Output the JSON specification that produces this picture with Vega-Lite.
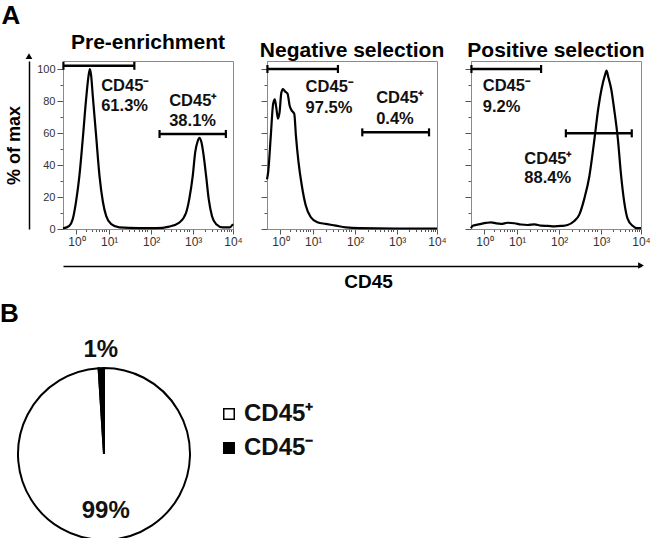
{
  "$schema": "https://vega.github.io/schema/vega-lite/v6.json",
  "padding": {"left": 0, "right": 0, "top": 2, "bottom": 0},
  "config": {
    "font": "Liberation Sans",
    "view": {"stroke": "#8a8a8a"},
    "axis": {"labelFont": "Liberation Sans", "titleFont": "Liberation Sans", "grid": false},
    "title": {"font": "Liberation Sans", "color": "black"}
  },
  "datasets": {
    "hist": [
      {"p":1,"d":-0.05,"y":0.4},{"p":1,"d":0.10,"y":2},{"p":1,"d":0.18,"y":6},{"p":1,"d":0.26,"y":17},{"p":1,"d":0.34,"y":33},{"p":1,"d":0.42,"y":56},{"p":1,"d":0.50,"y":81},{"p":1,"d":0.56,"y":96},{"p":1,"d":0.59,"y":100},{"p":1,"d":0.62,"y":96},{"p":1,"d":0.66,"y":83},{"p":1,"d":0.74,"y":58},{"p":1,"d":0.82,"y":33},{"p":1,"d":0.90,"y":17},{"p":1,"d":0.98,"y":8},{"p":1,"d":1.10,"y":3},{"p":1,"d":1.29,"y":1},{"p":1,"d":1.77,"y":0.5},{"p":1,"d":2.17,"y":0.5},{"p":1,"d":2.48,"y":1.5},{"p":1,"d":2.72,"y":4},{"p":1,"d":2.88,"y":10},{"p":1,"d":2.96,"y":19},{"p":1,"d":3.04,"y":33},{"p":1,"d":3.10,"y":48},{"p":1,"d":3.16,"y":55},{"p":1,"d":3.20,"y":57},{"p":1,"d":3.25,"y":54},{"p":1,"d":3.30,"y":46},{"p":1,"d":3.36,"y":33},{"p":1,"d":3.42,"y":19},{"p":1,"d":3.50,"y":8},{"p":1,"d":3.60,"y":3},{"p":1,"d":3.76,"y":1},{"p":1,"d":3.92,"y":1},{"p":1,"d":4.0,"y":3},
      {"p":2,"d":-0.05,"y":31},{"p":2,"d":-0.02,"y":36},{"p":2,"d":0.04,"y":58},{"p":2,"d":0.095,"y":78},{"p":2,"d":0.135,"y":81},{"p":2,"d":0.17,"y":76},{"p":2,"d":0.21,"y":69},{"p":2,"d":0.25,"y":73},{"p":2,"d":0.29,"y":85},{"p":2,"d":0.33,"y":87.5},{"p":2,"d":0.38,"y":86},{"p":2,"d":0.44,"y":84.5},{"p":2,"d":0.49,"y":77},{"p":2,"d":0.54,"y":74},{"p":2,"d":0.60,"y":72},{"p":2,"d":0.64,"y":58},{"p":2,"d":0.70,"y":42},{"p":2,"d":0.78,"y":27},{"p":2,"d":0.87,"y":15},{"p":2,"d":0.99,"y":7.5},{"p":2,"d":1.15,"y":4.2},{"p":2,"d":1.35,"y":3.2},{"p":2,"d":1.59,"y":2.1},{"p":2,"d":1.83,"y":1},{"p":2,"d":2.15,"y":0.5},{"p":2,"d":3.0,"y":0.3},{"p":2,"d":4.0,"y":0.3},
      {"p":3,"d":-0.05,"y":0.5},{"p":3,"d":-0.01,"y":2},{"p":3,"d":0.19,"y":3.2},{"p":3,"d":0.31,"y":3.8},{"p":3,"d":0.43,"y":4.2},{"p":3,"d":0.55,"y":3.5},{"p":3,"d":0.67,"y":3.2},{"p":3,"d":0.82,"y":3.9},{"p":3,"d":0.98,"y":3.6},{"p":3,"d":1.14,"y":2.8},{"p":3,"d":1.30,"y":2.5},{"p":3,"d":1.46,"y":2.9},{"p":3,"d":1.62,"y":2.1},{"p":3,"d":1.78,"y":1.9},{"p":3,"d":1.94,"y":1.6},{"p":3,"d":2.10,"y":1.9},{"p":3,"d":2.25,"y":2.5},{"p":3,"d":2.41,"y":5},{"p":3,"d":2.53,"y":9},{"p":3,"d":2.65,"y":19},{"p":3,"d":2.77,"y":33},{"p":3,"d":2.89,"y":56},{"p":3,"d":2.98,"y":75},{"p":3,"d":3.06,"y":87.5},{"p":3,"d":3.14,"y":96},{"p":3,"d":3.18,"y":99},{"p":3,"d":3.22,"y":95},{"p":3,"d":3.29,"y":87.5},{"p":3,"d":3.36,"y":75},{"p":3,"d":3.45,"y":56},{"p":3,"d":3.52,"y":35},{"p":3,"d":3.60,"y":17},{"p":3,"d":3.68,"y":6.5},{"p":3,"d":3.80,"y":2},{"p":3,"d":3.90,"y":0.5},{"p":3,"d":4.0,"y":0.5}
    ],
    "gates": [
      {"p":1,"g":"CD45⁻","d1":-0.04,"d2":1.65,"y":102},
      {"p":1,"g":"CD45⁺","d1":2.25,"d2":3.83,"y":59.4},
      {"p":2,"g":"CD45⁻","d1":-0.04,"d2":1.64,"y":100},
      {"p":2,"g":"CD45⁺","d1":2.22,"d2":3.81,"y":60.4},
      {"p":3,"g":"CD45⁻","d1":-0.04,"d2":1.62,"y":100},
      {"p":3,"g":"CD45⁺","d1":2.21,"d2":3.78,"y":59.8}
    ],
    "ann": [
      {"p":1,"d":0.86,"y":86,"t":"CD45⁻"},{"p":1,"d":0.86,"y":74,"t":"61.3%"},
      {"p":1,"d":2.48,"y":77,"t":"CD45⁺"},{"p":1,"d":2.48,"y":64.5,"t":"38.1%"},
      {"p":2,"d":0.87,"y":85.4,"t":"CD45⁻"},{"p":2,"d":0.87,"y":72.3,"t":"97.5%"},
      {"p":2,"d":2.55,"y":79,"t":"CD45⁺"},{"p":2,"d":2.55,"y":65.6,"t":"0.4%"},
      {"p":3,"d":0.23,"y":86.5,"t":"CD45⁻"},{"p":3,"d":0.23,"y":73,"t":"9.2%"},
      {"p":3,"d":1.22,"y":40.6,"t":"CD45⁺"},{"p":3,"d":1.22,"y":29,"t":"88.4%"}
    ],
    "pie": [
      {"cat":"CD45⁺","value":99,"label":"99%"},
      {"cat":"CD45⁻","value":1,"label":"1%"}
    ]
  },
  "vconcat": [
    {
      "title": {"text": "A", "anchor": "start", "fontSize": 26, "fontWeight": "bold", "dx": -3, "offset": 3},
      "spacing": 14,
      "vconcat": [
        {
          "bounds": "flush",
          "spacing": 34,
          "hconcat": [
            {
              "width": 170, "height": 168,
              "title": {"text": "Pre-enrichment", "fontSize": 21, "fontWeight": "bold", "offset": 0},
              "resolve": {"axis": {"x": "independent", "y": "independent"}},
              "layer": [
                {"data": {"name": "hist"}, "transform": [{"filter": "datum.p == 1"}],
                 "mark": {"type": "line", "color": "black", "strokeWidth": 2.2, "interpolate": "monotone"},
                 "encoding": {
                   "x": {"field": "d", "type": "quantitative", "scale": {"domain": [-0.05, 4], "nice": false, "zero": false},
                     "axis": {"title": null, "values": [0.27,0.505,0.642,0.74,0.815,0.877,0.929,0.974,1.05,1.351,1.527,1.652,1.749,1.828,1.895,1.953,2.05,2.351,2.527,2.652,2.749,2.828,2.895,2.953,3.05,3.336,3.503,3.622,3.714,3.789,3.853,3.908,3.956,4],
                       "labelExpr": "indexof([0.27,1.05,2.05,3.05,4], datum.value) < 0 ? '' : datum.value < 0.5 ? '10⁰' : datum.value < 1.5 ? '10¹' : datum.value < 2.5 ? '10²' : datum.value < 3.5 ? '10³' : '10⁴'",
                       "tickSize": {"condition": {"test": "indexof([0.27,1.05,2.05,3.05,4], datum.value) >= 0", "value": 5}, "value": 2.5},
                       "labelFontSize": 12, "labelColor": "#333", "labelPadding": 2, "labelFlush": false, "labelOverlap": false, "labelBound": false, "labelDx": 0,
                       "domainColor": "#8a8a8a", "tickColor": "#555"}},
                   "y": {"field": "y", "type": "quantitative", "scale": {"domain": [0, 105], "nice": false},
                     "axis": {"title": null, "values": [0,10,20,30,40,50,60,70,80,90,100],
                       "labelExpr": "datum.value % 20 == 0 ? datum.label : ''",
                       "tickSize": {"condition": {"test": "datum.value % 20 == 0", "value": 6}, "value": 3},
                       "labelFontSize": 11, "labelColor": "#333", "labelPadding": 2, "labelFlush": false,
                       "domainColor": "#8a8a8a", "tickColor": "#555"}}
                 }},
                {"data": {"name": "gates"}, "transform": [{"filter": "datum.p == 1"}],
                 "mark": {"type": "rule", "color": "black", "strokeWidth": 2.5},
                 "encoding": {"x": {"field": "d1", "type": "quantitative", "axis": null}, "x2": {"field": "d2"}, "y": {"field": "y", "type": "quantitative", "axis": null}}},
                {"data": {"name": "gates"}, "transform": [{"filter": "datum.p == 1"}, {"fold": ["d1", "d2"], "as": ["end", "dv"]}],
                 "mark": {"type": "point", "shape": "M0,-1V1", "color": "black", "strokeWidth": 2.2, "size": 64, "opacity": 1},
                 "encoding": {"x": {"field": "dv", "type": "quantitative", "axis": null}, "y": {"field": "y", "type": "quantitative", "axis": null}}},
                {"data": {"name": "ann"}, "transform": [{"filter": "datum.p == 1"}],
                 "mark": {"type": "text", "align": "left", "baseline": "alphabetic", "fontSize": 16.5, "fontWeight": "bold", "color": "#111"},
                 "encoding": {"x": {"field": "d", "type": "quantitative", "axis": null}, "y": {"field": "y", "type": "quantitative", "axis": null}, "text": {"field": "t"}}},
                {"data": {"values": [{"axis": "% of max"}]},
                 "mark": {"type": "point", "shape": "triangle-up", "filled": true, "color": "black", "size": 45, "opacity": 1, "xOffset": -34},
                 "encoding": {
                   "x": {"datum": -0.05, "type": "quantitative", "axis": null},
                   "y": {"datum": 108, "type": "quantitative", "scale": {"domain": [0, 105], "nice": false},
                     "axis": {"orient": "left", "offset": 34, "ticks": false, "labels": false, "domainColor": "black", "domainWidth": 1.5,
                       "title": "% of max", "titleFontSize": 18, "titleFontWeight": "bold", "titlePadding": 6, "titleColor": "black"}}
                 }}
              ]
            },
            {
              "width": 170, "height": 168,
              "title": {"text": "Negative selection", "fontSize": 21, "fontWeight": "bold", "offset": 0},
              "resolve": {"axis": {"x": "independent", "y": "independent"}},
              "layer": [
                {"data": {"name": "hist"}, "transform": [{"filter": "datum.p == 2"}],
                 "mark": {"type": "line", "color": "black", "strokeWidth": 2.2, "interpolate": "monotone"},
                 "encoding": {
                   "x": {"field": "d", "type": "quantitative", "scale": {"domain": [-0.05, 4], "nice": false, "zero": false},
                     "axis": {"title": null, "values": [0.27,0.505,0.642,0.74,0.815,0.877,0.929,0.974,1.05,1.351,1.527,1.652,1.749,1.828,1.895,1.953,2.05,2.351,2.527,2.652,2.749,2.828,2.895,2.953,3.05,3.336,3.503,3.622,3.714,3.789,3.853,3.908,3.956,4],
                       "labelExpr": "indexof([0.27,1.05,2.05,3.05,4], datum.value) < 0 ? '' : datum.value < 0.5 ? '10⁰' : datum.value < 1.5 ? '10¹' : datum.value < 2.5 ? '10²' : datum.value < 3.5 ? '10³' : '10⁴'",
                       "tickSize": {"condition": {"test": "indexof([0.27,1.05,2.05,3.05,4], datum.value) >= 0", "value": 5}, "value": 2.5},
                       "labelFontSize": 12, "labelColor": "#333", "labelPadding": 2, "labelFlush": false, "labelOverlap": false, "labelBound": false, "labelDx": 0,
                       "domainColor": "#8a8a8a", "tickColor": "#555"}},
                   "y": {"field": "y", "type": "quantitative", "scale": {"domain": [0, 105], "nice": false},
                     "axis": {"title": null, "values": [0,10,20,30,40,50,60,70,80,90,100], "labels": false,
                       "tickSize": {"condition": {"test": "datum.value % 20 == 0", "value": 6}, "value": 3},
                       "domainColor": "#8a8a8a", "tickColor": "#555"}}
                 }},
                {"data": {"name": "gates"}, "transform": [{"filter": "datum.p == 2"}],
                 "mark": {"type": "rule", "color": "black", "strokeWidth": 2.5},
                 "encoding": {"x": {"field": "d1", "type": "quantitative", "axis": null}, "x2": {"field": "d2"}, "y": {"field": "y", "type": "quantitative", "axis": null}}},
                {"data": {"name": "gates"}, "transform": [{"filter": "datum.p == 2"}, {"fold": ["d1", "d2"], "as": ["end", "dv"]}],
                 "mark": {"type": "point", "shape": "M0,-1V1", "color": "black", "strokeWidth": 2.2, "size": 64, "opacity": 1},
                 "encoding": {"x": {"field": "dv", "type": "quantitative", "axis": null}, "y": {"field": "y", "type": "quantitative", "axis": null}}},
                {"data": {"name": "ann"}, "transform": [{"filter": "datum.p == 2"}],
                 "mark": {"type": "text", "align": "left", "baseline": "alphabetic", "fontSize": 16.5, "fontWeight": "bold", "color": "#111"},
                 "encoding": {"x": {"field": "d", "type": "quantitative", "axis": null}, "y": {"field": "y", "type": "quantitative", "axis": null}, "text": {"field": "t"}}}
              ]
            },
            {
              "width": 170, "height": 168,
              "title": {"text": "Positive selection", "fontSize": 21, "fontWeight": "bold", "offset": 0},
              "resolve": {"axis": {"x": "independent", "y": "independent"}},
              "layer": [
                {"data": {"name": "hist"}, "transform": [{"filter": "datum.p == 3"}],
                 "mark": {"type": "line", "color": "black", "strokeWidth": 2.2, "interpolate": "monotone"},
                 "encoding": {
                   "x": {"field": "d", "type": "quantitative", "scale": {"domain": [-0.05, 4], "nice": false, "zero": false},
                     "axis": {"title": null, "values": [0.27,0.505,0.642,0.74,0.815,0.877,0.929,0.974,1.05,1.351,1.527,1.652,1.749,1.828,1.895,1.953,2.05,2.351,2.527,2.652,2.749,2.828,2.895,2.953,3.05,3.336,3.503,3.622,3.714,3.789,3.853,3.908,3.956,4],
                       "labelExpr": "indexof([0.27,1.05,2.05,3.05,4], datum.value) < 0 ? '' : datum.value < 0.5 ? '10⁰' : datum.value < 1.5 ? '10¹' : datum.value < 2.5 ? '10²' : datum.value < 3.5 ? '10³' : '10⁴'",
                       "tickSize": {"condition": {"test": "indexof([0.27,1.05,2.05,3.05,4], datum.value) >= 0", "value": 5}, "value": 2.5},
                       "labelFontSize": 12, "labelColor": "#333", "labelPadding": 2, "labelFlush": false, "labelOverlap": false, "labelBound": false, "labelDx": 0,
                       "domainColor": "#8a8a8a", "tickColor": "#555"}},
                   "y": {"field": "y", "type": "quantitative", "scale": {"domain": [0, 105], "nice": false},
                     "axis": {"title": null, "values": [0,10,20,30,40,50,60,70,80,90,100], "labels": false,
                       "tickSize": {"condition": {"test": "datum.value % 20 == 0", "value": 6}, "value": 3},
                       "domainColor": "#8a8a8a", "tickColor": "#555"}}
                 }},
                {"data": {"name": "gates"}, "transform": [{"filter": "datum.p == 3"}],
                 "mark": {"type": "rule", "color": "black", "strokeWidth": 2.5},
                 "encoding": {"x": {"field": "d1", "type": "quantitative", "axis": null}, "x2": {"field": "d2"}, "y": {"field": "y", "type": "quantitative", "axis": null}}},
                {"data": {"name": "gates"}, "transform": [{"filter": "datum.p == 3"}, {"fold": ["d1", "d2"], "as": ["end", "dv"]}],
                 "mark": {"type": "point", "shape": "M0,-1V1", "color": "black", "strokeWidth": 2.2, "size": 64, "opacity": 1},
                 "encoding": {"x": {"field": "dv", "type": "quantitative", "axis": null}, "y": {"field": "y", "type": "quantitative", "axis": null}}},
                {"data": {"name": "ann"}, "transform": [{"filter": "datum.p == 3"}],
                 "mark": {"type": "text", "align": "left", "baseline": "alphabetic", "fontSize": 16.5, "fontWeight": "bold", "color": "#111"},
                 "encoding": {"x": {"field": "d", "type": "quantitative", "axis": null}, "y": {"field": "y", "type": "quantitative", "axis": null}, "text": {"field": "t"}}}
              ]
            }
          ]
        },
        {
          "width": 578, "height": 1,
          "view": {"stroke": null},
          "data": {"values": [{"axis": "CD45"}]},
          "mark": {"type": "point", "shape": "triangle-right", "filled": true, "color": "black", "size": 45, "opacity": 1},
          "encoding": {
            "x": {"datum": 1, "type": "quantitative", "scale": {"domain": [0, 1]},
              "axis": {"ticks": false, "labels": false, "domainColor": "black", "domainWidth": 1.5, "title": "CD45", "titleFontSize": 19, "titleFontWeight": "bold", "titlePadding": 6, "titleColor": "black", "titleX": 305}}
          }
        }
      ]
    },
    {
      "title": {"text": "B", "anchor": "start", "fontSize": 26, "fontWeight": "bold", "dx": -14, "offset": 11},
      "width": 82, "height": 172,
      "view": {"stroke": null},
      "data": {"name": "pie"},
      "encoding": {
        "theta": {"field": "value", "type": "quantitative", "stack": true},
        "order": {"field": "value", "sort": "descending"}
      },
      "layer": [
        {"mark": {"type": "arc", "stroke": "black", "strokeWidth": 2, "outerRadius": 86},
         "encoding": {"color": {"field": "cat", "type": "nominal",
           "scale": {"domain": ["CD45⁺", "CD45⁻"], "range": ["white", "black"]},
           "legend": {"orient": "none", "legendX": 154, "legendY": 34, "title": null, "symbolType": "square", "symbolSize": 110,
             "symbolStrokeColor": "black", "symbolStrokeWidth": 1.5, "labelFontSize": 24, "labelFontWeight": "bold", "labelFont": "Liberation Sans",
             "labelColor": "#111", "rowPadding": 10, "labelOffset": 3, "padding": 0, "labelLimit": 300}}}},
        {"mark": {"type": "text", "radius": 57, "fontSize": 24, "fontWeight": "bold", "color": "#111"},
         "encoding": {"text": {"condition": {"test": "datum.value > 50", "field": "label"}, "value": ""}}},
        {"mark": {"type": "text", "radius": 104, "fontSize": 24, "fontWeight": "bold", "color": "#111"},
         "encoding": {"text": {"condition": {"test": "datum.value < 50", "field": "label"}, "value": ""}}}
      ]
    }
  ],
  "spacing": 10,
  "resolve": {"scale": {"color": "independent"}, "legend": {"color": "independent"}}
}
